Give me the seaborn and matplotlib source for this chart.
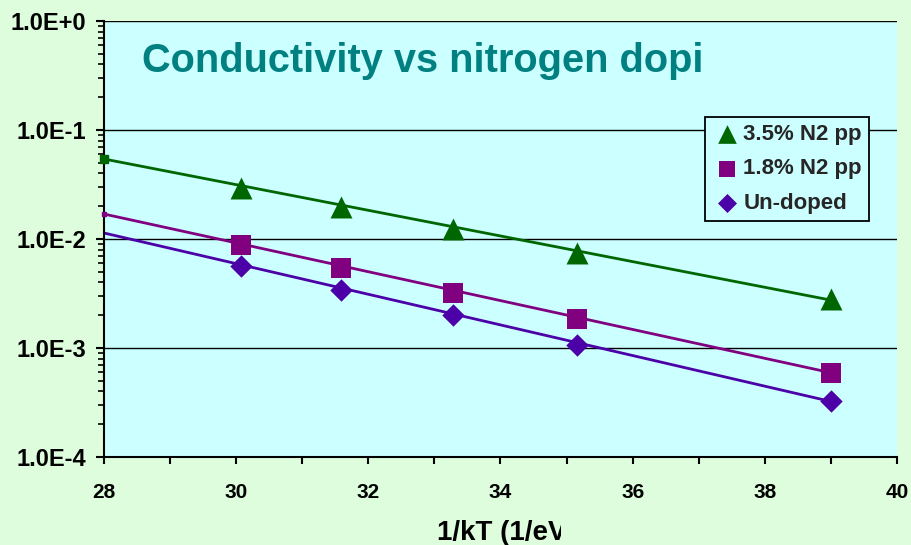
import numpy as np
import pandas as pd
import matplotlib
matplotlib.use("Agg")
import matplotlib.pyplot as plt
import seaborn as sns
from matplotlib.patches import Rectangle
from matplotlib.ticker import LogLocator, NullFormatter, FixedLocator

# ---- data ----
inv_kT = [30.07, 31.59, 33.28, 35.16, 39.0]
n2_35 = [0.0294, 0.0197, 0.0124, 0.0074, 0.00282]
n2_18 = [0.0088, 0.0054, 0.0032, 0.00185, 0.00059]
undoped = [0.00565, 0.0034, 0.0020, 0.00107, 0.000327]
series_names = ["3.5% N2 pp", "1.8% N2 pp", "Un-doped"]

fit_x = [28.0, 39.0]
fit_35 = [0.0542, 0.00275]
fit_18 = [0.01695, 0.000593]
fit_un = [0.01135, 0.000323]

xticks = [28, 30, 32, 34, 36, 38, 40]
yticks = [1e-4, 1e-3, 1e-2, 1e-1, 1e0]
yticklabels = ["1.0E-4", "1.0E-3", "1.0E-2", "1.0E-1", "1.0E+0"]

title = "Conductivity vs nitrogen doping"
xlabel = "1/kT (1/eV)"

colors = {"3.5% N2 pp": "#006600", "1.8% N2 pp": "#800080", "Un-doped": "#4B00A8"}
markers = {"3.5% N2 pp": "^", "1.8% N2 pp": "s", "Un-doped": "D"}

pts = pd.DataFrame({
    "x": inv_kT * 3,
    "y": n2_35 + n2_18 + undoped,
    "series": [s for s in series_names for _ in inv_kT],
})
fits = pd.DataFrame({
    "x": fit_x * 3,
    "y": fit_35 + fit_18 + fit_un,
    "series": [s for s in series_names for _ in fit_x],
})

sns.set_theme(style="white")
plt.rcParams['font.family'] = ['Liberation Sans', 'DejaVu Sans']
plt.rcParams['font.weight'] = 'bold'

FIG_BG = "#DDFDDD"
PLOT_BG = "#CCFFFF"
W, H = 912, 545
fig = plt.figure(figsize=(W / 100, H / 100), dpi=100, facecolor=FIG_BG)
ax = fig.add_axes([104 / W, 1 - 457 / H, (897 - 104) / W, (457 - 21) / H])
ax.set_facecolor(PLOT_BG)

ax.set_yscale("log")
ax.set_ylim(1e-4, 1e0)
ax.set_xlim(28, 40)

# gridlines
for yv in yticks:
    ax.axhline(yv, color="black", lw=1.0, zorder=1)

sns.lineplot(data=fits, x="x", y="y", hue="series", palette=colors,
             ax=ax, legend=False, lw=2, zorder=2)

# start markers of trends
ax.plot([fit_x[0]], [fit_35[0]], marker="s", ms=5.5, color=colors["3.5% N2 pp"],
        ls="none", zorder=4, clip_on=False)
ax.plot([fit_x[0]], [fit_18[0]], marker="s", ms=2.5, color=colors["1.8% N2 pp"],
        ls="none", zorder=4, clip_on=False)

sizes = {"3.5% N2 pp": 250, "1.8% N2 pp": 190, "Un-doped": 130}
for s in series_names:
    d = pts[pts.series == s]
    sns.scatterplot(data=d, x="x", y="y", marker=markers[s], color=colors[s],
                    s=sizes[s], linewidth=0, ax=ax, zorder=3, label=s)

# axes style
for side in ["top", "right"]:
    ax.spines[side].set_visible(False)
for side in ["left", "bottom"]:
    ax.spines[side].set_visible(True)
    ax.spines[side].set_color("black")
    ax.spines[side].set_linewidth(1.5)

ax.set_yticks(yticks)
ax.set_yticklabels(yticklabels)
ax.yaxis.set_minor_locator(LogLocator(base=10, subs=np.arange(2, 10)))
ax.yaxis.set_minor_formatter(NullFormatter())
ax.set_xticks(xticks)
ax.set_xticklabels([str(v) for v in xticks])
ax.xaxis.set_minor_locator(FixedLocator([29, 31, 33, 35, 37, 39]))

ax.tick_params(axis="y", which="major", direction="out", length=6, width=1.5,
               color="black", labelsize=17, pad=7, left=True)
ax.tick_params(axis="y", which="minor", direction="out", length=4, width=1.2,
               color="black", left=True)
ax.tick_params(axis="x", which="both", direction="out", length=5, width=1.5,
               color="black", labelsize=15, pad=14, bottom=True)
for lab in ax.get_xticklabels() + ax.get_yticklabels():
    lab.set_fontweight("bold")
    lab.set_color("black")

ax.set_xlabel("")
ax.set_ylabel("")

# legend
leg = ax.legend(loc="upper left",
                bbox_to_anchor=((705 - 104) / (897 - 104), 1 - (117 - 21) / (457 - 21)),
                frameon=True, fancybox=False, facecolor=PLOT_BG, edgecolor="black",
                framealpha=1, fontsize=16, handletextpad=0.05, handlelength=1.35,
                borderpad=0.32, labelspacing=0.6, markerscale=0.85, borderaxespad=0)
leg.get_frame().set_linewidth(1.3)
for t in leg.get_texts():
    t.set_fontweight("bold")

# title, cut off at its right end as in the original
fig.text(142 / W, 1 - 61 / H, title, color="#008080", fontsize=28.6,
         fontweight="bold", ha="left", va="center", zorder=5)
fig.patches.append(Rectangle((706 / W, 1 - 90 / H), (760 - 706) / W, 60 / H,
                             transform=fig.transFigure, facecolor=PLOT_BG,
                             edgecolor="none", zorder=6))

# x axis title, cut off at its right end
fig.text(437 / W, 1 - 533 / H, xlabel, color="black", fontsize=20,
         fontweight="bold", ha="left", va="center", zorder=5)
fig.patches.append(Rectangle((561 / W, 0), (640 - 561) / W, 40 / H,
                             transform=fig.transFigure, facecolor=FIG_BG,
                             edgecolor="none", zorder=6))

fig.savefig("out.png", dpi=100, facecolor=fig.get_facecolor())
